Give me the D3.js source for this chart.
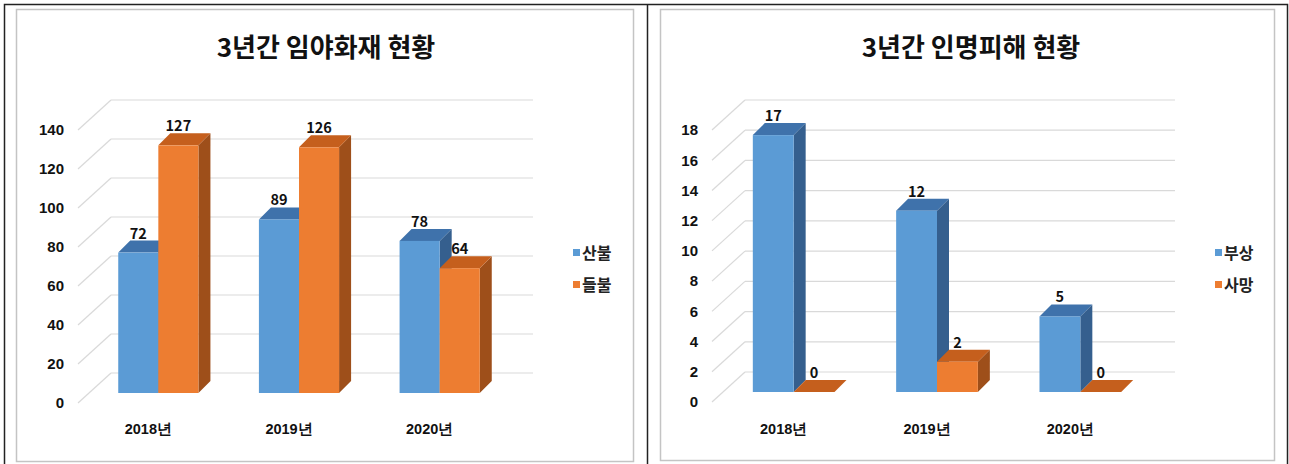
<!DOCTYPE html>
<html>
<head>
<meta charset="utf-8">
<script src="https://cdn.jsdelivr.net/npm/d3@7"></script>
<style>
  body { margin: 0; background: #fff; }
  svg { display: block; font-family: 'Noto Sans CJK KR', 'Noto Sans', sans-serif; }
</style>
</head>
<body>
<svg width="1289" height="464"></svg>
<script>
// data
const years = ['2018년', '2019년', '2020년'];

const fireSeries = ['산불', '들불'];
const sanbul = [72, 89, 78];
const deulbul = [127, 126, 64];
const fireTicks = [0, 20, 40, 60, 80, 100, 120, 140];

const casualtySeries = ['부상', '사망'];
const injured = [17, 12, 5];
const deaths = [0, 2, 0];
const casualtyTicks = [0, 2, 4, 6, 8, 10, 12, 14, 16, 18];

// blue / orange faces: front, top, side
const faceColors = [
    {front: '#5B9BD5', top: '#3F72AB', side: '#355F8E'},
    {front: '#ED7D31', top: '#C55F1D', side: '#9E4F1A'}
];

var svg = d3.select('svg');

// outer table border and divider
svg.append('path')
    .attr('d', 'M4.5,470 V4.5 H1287.5 V470 M647.5,4.5 V470')
    .attr('fill', 'none')
    .attr('stroke', '#222')
    .attr('stroke-width', 1.5);

// depth of the back wall, offset of the bar plane, depth of a bar
var wall = {x: 33, y: -30};
var plane = {x: 10, y: -10};
var depth = {x: 12, y: -12};

function drawChart(cfg) {
    var g = svg.append('g');

    // chart frame
    g.append('rect')
        .attr('x', cfg.frame[0] + 0.5)
        .attr('y', cfg.frame[1] + 0.5)
        .attr('width', cfg.frame[2])
        .attr('height', cfg.frame[3])
        .attr('fill', '#fff')
        .attr('stroke', '#c4c4c4')
        .attr('stroke-width', 1.5);

    g.append('text')
        .attr('x', cfg.titleX)
        .attr('y', 57)
        .attr('text-anchor', 'middle')
        .attr('font-size', 26)
        .attr('font-weight', 'bold')
        .attr('fill', '#111')
        .text(cfg.title);

    var y = d3.scaleLinear()
        .domain([0, d3.max(cfg.ticks)])
        .range([cfg.floorY, cfg.topY]);
    var x0 = d3.scaleBand()
        .domain(years)
        .range(cfg.xRange)
        .paddingInner(0.43)
        .paddingOuter(0.215);
    var x1 = d3.scaleBand()
        .domain(cfg.series)
        .range([0, x0.bandwidth()]);

    // back wall gridlines and side wall diagonals
    var grid = g.append('g')
        .attr('stroke', '#d9d9d9')
        .attr('stroke-width', 1.2)
        .attr('fill', 'none');
    grid.selectAll('.back')
        .data(cfg.ticks)
        .enter()
        .append('line')
        .attr('x1', cfg.xRange[0] + wall.x)
        .attr('x2', cfg.xRange[1] + wall.x)
        .attr('y1', d => y(d) + wall.y)
        .attr('y2', d => y(d) + wall.y);
    grid.selectAll('.diag')
        .data(cfg.ticks)
        .enter()
        .append('line')
        .attr('x1', cfg.xRange[0])
        .attr('x2', cfg.xRange[0] + wall.x)
        .attr('y1', d => y(d))
        .attr('y2', d => y(d) + wall.y);

    // y axis labels
    var yAxis = d3.axisLeft(y)
        .tickValues(cfg.ticks)
        .tickSize(0)
        .tickPadding(0);
    var yG = g.append('g')
        .attr('transform', `translate(${cfg.xRange[0] - 14}, 0)`)
        .call(yAxis);
    yG.select('.domain').remove();
    yG.selectAll('text')
        .attr('font-size', 15)
        .attr('font-weight', 'bold')
        .attr('font-family', null)
        .attr('fill', '#111');

    // x axis labels
    var xAxis = d3.axisBottom(x0)
        .tickSize(0)
        .tickPadding(0);
    var xG = g.append('g')
        .attr('transform', 'translate(0, 424)')
        .call(xAxis);
    xG.select('.domain').remove();
    xG.selectAll('text')
        .attr('font-size', 14.5)
        .attr('font-weight', 'bold')
        .attr('font-family', null)
        .attr('fill', '#111');

    // 3d bars
    var rows = years.map((yr, i) => ({
        year: yr,
        bars: cfg.series.map((s, j) => ({name: s, value: cfg.values[j][i], c: faceColors[j]}))
    }));

    var groups = g.selectAll('.year')
        .data(rows)
        .enter()
        .append('g')
        .attr('class', 'year')
        .attr('transform', d => `translate(${x0(d.year) + plane.x}, ${plane.y})`);

    var bw = x1.bandwidth();
    var bars = groups.selectAll('.bar')
        .data(d => d.bars)
        .enter()
        .append('g')
        .attr('class', 'bar');

    bars.append('path')
        .attr('fill', d => d.c.side)
        .attr('d', d => {
            var bx = x1(d.name) + bw, top = y(d.value), bot = y(0);
            return `M${bx},${top} L${bx + depth.x},${top + depth.y} L${bx + depth.x},${bot + depth.y} L${bx},${bot} Z`;
        });
    bars.append('path')
        .attr('fill', d => d.c.top)
        .attr('d', d => {
            var bx = x1(d.name), top = y(d.value);
            return `M${bx},${top} L${bx + depth.x},${top + depth.y} L${bx + bw + depth.x},${top + depth.y} L${bx + bw},${top} Z`;
        });
    bars.append('rect')
        .attr('x', d => x1(d.name))
        .attr('y', d => y(d.value))
        .attr('width', bw)
        .attr('height', d => y(0) - y(d.value))
        .attr('fill', d => d.c.front);
    bars.append('text')
        .attr('x', d => x1(d.name) + bw / 2)
        .attr('y', d => y(d.value) + depth.y - 2)
        .attr('text-anchor', 'middle')
        .attr('font-size', 14.5)
        .attr('font-weight', 'bold')
        .attr('fill', '#111')
        .text(d => d.value);

    // legend
    var legend = g.selectAll('.legend')
        .data(cfg.series)
        .enter()
        .append('g')
        .attr('class', 'legend')
        .attr('transform', (d, i) => `translate(${cfg.legendX}, ${253 + i * 32})`);
    legend.append('rect')
        .attr('x', 0)
        .attr('y', -4)
        .attr('width', 7)
        .attr('height', 7)
        .attr('fill', (d, i) => faceColors[i].front);
    legend.append('text')
        .attr('x', 9)
        .attr('y', 6)
        .attr('font-size', 16)
        .attr('font-weight', 'bold')
        .attr('fill', '#222')
        .text(d => d);
}

drawChart({
    title: '3년간 임야화재 현황',
    titleX: 326,
    frame: [16, 9, 617, 452],
    series: fireSeries,
    values: [sanbul, deulbul],
    ticks: fireTicks,
    floorY: 403,
    topY: 130,
    xRange: [78, 500],
    legendX: 573
});

drawChart({
    title: '3년간 인명피해 현황',
    titleX: 971,
    frame: [660, 9, 614, 451],
    series: casualtySeries,
    values: [injured, deaths],
    ticks: casualtyTicks,
    floorY: 402,
    topY: 130,
    xRange: [712, 1142],
    legendX: 1215
});
</script>
</body>
</html>
